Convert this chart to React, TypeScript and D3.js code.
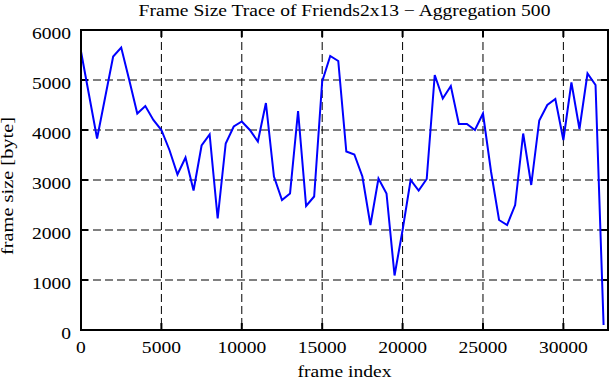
import React from "react";
import * as d3 from "d3";

const frameIndex = [
  0, 500, 1000, 1500, 2000, 2500, 3000, 3500, 4000, 4500,
  5000, 5500, 6000, 6500, 7000, 7500, 8000, 8500, 9000, 9500,
  10000, 10500, 11000, 11500, 12000, 12500, 13000, 13500, 14000, 14500,
  15000, 15500, 16000, 16500, 17000, 17500, 18000, 18500, 19000, 19500,
  20000, 20500, 21000, 21500, 22000, 22500, 23000, 23500, 24000, 24500,
  25000, 25500, 26000, 26500, 27000, 27500, 28000, 28500, 29000, 29500,
  30000, 30500, 31000, 31500, 32000, 32500,
];

const frameSize = [
  5570, 4700, 3830, 4650, 5470, 5650, 5000, 4330, 4480, 4200,
  4000, 3600, 3110, 3450, 2790, 3690, 3910, 2230, 3730, 4070,
  4170, 4000, 3770, 4540, 3070, 2600, 2730, 4380, 2480, 2670,
  4970, 5480, 5380, 3570, 3510, 3070, 2100, 3030, 2730, 1090,
  2000, 3000, 2790, 3020, 5100, 4630, 4880, 4120, 4120, 4000,
  4330, 3170, 2200, 2100, 2500, 3930, 2900, 4190, 4500, 4620,
  3800, 4950, 4020, 5130, 4900, 100,
];

const xTicks = [0, 5000, 10000, 15000, 20000, 25000, 30000];
const yTicks = [0, 1000, 2000, 3000, 4000, 5000, 6000];

const title = "Frame Size Trace of Friends2x13 \u2212 Aggregation 500";
const xLabel = "frame index";
const yLabel = "frame size [byte]";

const W = 611;
const H = 380;
const left = 81, right = 608, top = 30, bottom = 330;
const FONT = "'Liberation Serif', 'Times New Roman', serif";
const FS = 17;
const SX = 1.15;

// stretched text, the reference looks squashed vertically
function T({ x, y, anchor = "middle", children }: any) {
  return (
    <text
      transform={`translate(${x},${y}) scale(${SX},1)`}
      textAnchor={anchor}
      fontFamily={FONT}
      fontSize={FS}
      fill="#000"
    >
      {children}
    </text>
  );
}

export default function App() {
  const x = d3.scaleLinear().domain([0, 32775]).range([left, right]);
  const y = d3.scaleLinear().domain([0, 6000]).range([bottom, top]);

  const pts = frameIndex.map((f, i) => [f, frameSize[i]] as [number, number]);
  const line = d3.line<[number, number]>().x(d => x(d[0])).y(d => y(d[1]));

  const tl = 7;

  return (
    <svg
      width={W}
      height={H}
      style={{ position: "absolute", left: 0, top: 0, background: "#fff" }}
    >
      <rect x={0} y={0} width={W} height={H} fill="#fff" />

      {/* grid */}
      {xTicks.filter(t => t > 0).map(t => (
        <line key={"gx" + t} x1={x(t)} x2={x(t)} y1={top} y2={bottom}
          stroke="#000" strokeWidth={1} strokeDasharray="8,4" />
      ))}
      {yTicks.filter(t => t > 0 && t < 6000).map(t => (
        <line key={"gy" + t} x1={left} x2={right} y1={y(t)} y2={y(t)}
          stroke="#000" strokeWidth={1} strokeDasharray="8,4" />
      ))}

      {/* ticks on all sides */}
      {xTicks.map(t => (
        <g key={"tx" + t}>
          <line x1={x(t)} x2={x(t)} y1={bottom} y2={bottom - tl} stroke="#000" strokeWidth={2} />
          <line x1={x(t)} x2={x(t)} y1={top} y2={top + tl} stroke="#000" strokeWidth={2} />
          <T x={x(t)} y={353}>{t}</T>
        </g>
      ))}
      {yTicks.map(t => (
        <g key={"ty" + t}>
          <line x1={left} x2={left + tl} y1={y(t)} y2={y(t)} stroke="#000" strokeWidth={2} />
          <line x1={right} x2={right - tl} y1={y(t)} y2={y(t)} stroke="#000" strokeWidth={2} />
          <T x={71} y={y(t) + 9} anchor="end">{t}</T>
        </g>
      ))}

      <path d={line(pts) || ""} fill="none" stroke="#0000ff" strokeWidth={2} strokeLinejoin="miter" />

      <rect x={left} y={top} width={right - left} height={bottom - top}
        fill="none" stroke="#000" strokeWidth={2} />

      <T x={(left + right) / 2} y={16}>{title}</T>
      <T x={(left + right) / 2} y={377}>{xLabel}</T>
      <text
        transform={`translate(13,186) rotate(-90)`}
        textAnchor="middle"
        fontFamily={FONT}
        fontSize={16}
        textLength={138}
        lengthAdjust="spacingAndGlyphs"
        fill="#000"
      >
        {yLabel}
      </text>
    </svg>
  );
}
